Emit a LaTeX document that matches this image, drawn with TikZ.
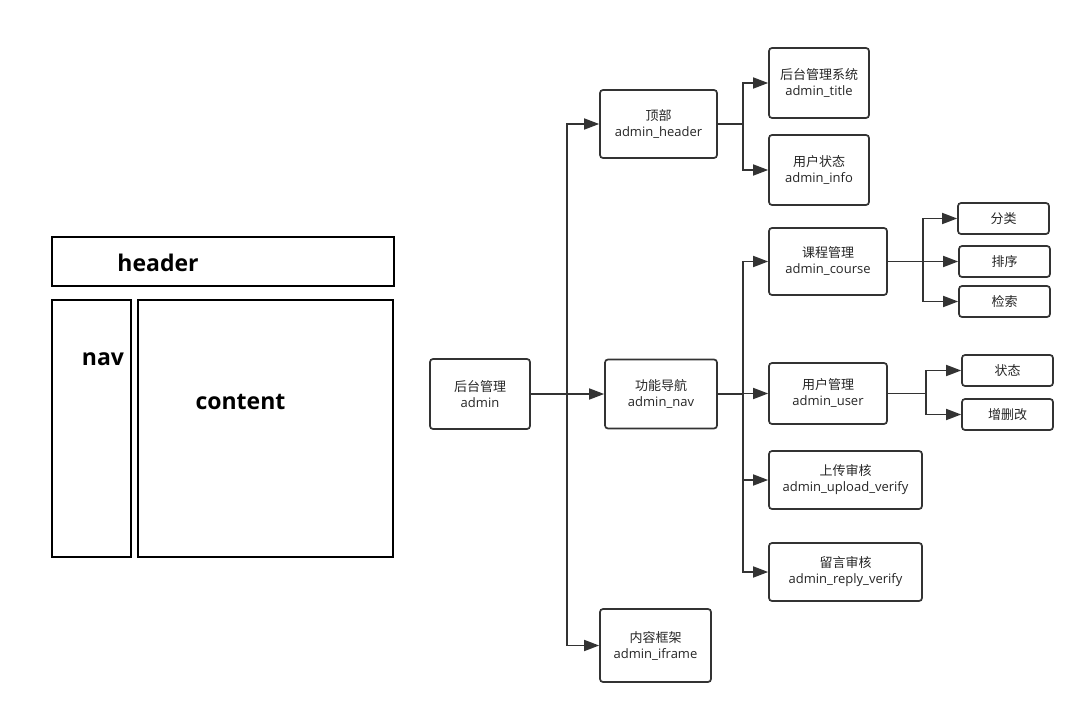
\documentclass[tikz,border=0pt]{standalone}
\usepackage{fontspec}
\setmainfont{Open Sans}
\newfontfamily\cjk{Noto Sans CJK SC}
\newfontfamily\boldlab{Open Sans}[UprightFont=* Bold]
\usetikzlibrary{arrows.meta}
\definecolor{ln}{HTML}{333333}
\begin{document}
\begin{tikzpicture}[x=1pt,y=-1pt,
  box/.style={draw=ln,line width=1.7pt,rounded corners=3pt,fill=white,align=center,
    inner sep=0pt,font=\fontsize{13}{16}\selectfont,text=black!85},
  lay/.style={draw=black,line width=2.6pt,inner sep=0pt},
  big/.style={font=\boldlab\fontsize{23}{26}\selectfont,inner sep=0pt,text=black},
  arr/.style={draw=ln,line width=1.7pt,-{Triangle[length=15pt,width=11pt]}},
  ln/.style={draw=ln,line width=1.7pt}]
\useasboundingbox (0,0) rectangle (1086,714);
% layout sketch
\node[lay,minimum width=342pt,minimum height=49pt] (hdrbox) at (223,261.5) {};
\node[lay,minimum width=79pt,minimum height=257pt] (navbox) at (91.5,428.5) {};
\node[lay,minimum width=255pt,minimum height=257pt] (conbox) at (265.5,428.5) {};
\node[big] (hdrtxt) at (158,263) {header};
\node[big] (navtxt) at (103,359) {nav};
\node[big] (contxt) at (240.5,402) {content};
% tree
\node[box,minimum width=100pt,minimum height=70pt] (admin) at (480,394) {{\cjk 后台管理}\\admin};
\node[box,minimum width=112pt,minimum height=69pt] (nav) at (661,394) {{\cjk 功能导航}\\admin\_nav};
\node[box,minimum width=117pt,minimum height=68pt] (hdr) at (658.5,124) {{\cjk 顶部}\\admin\_header};
\node[box,minimum width=111pt,minimum height=73pt] (ifr) at (655.5,645.5) {{\cjk 内容框架}\\admin\_iframe};
\node[box,minimum width=100pt,minimum height=70pt] (title) at (819,83) {{\cjk 后台管理系统}\\admin\_title};
\node[box,minimum width=100pt,minimum height=70pt] (info) at (819,170) {{\cjk 用户状态}\\admin\_info};
\node[box,minimum width=118pt,minimum height=67pt] (course) at (828,261.5) {{\cjk 课程管理}\\admin\_course};
\node[box,minimum width=118pt,minimum height=61pt] (user) at (828,393.5) {{\cjk 用户管理}\\admin\_user};
\node[box,minimum width=153pt,minimum height=58pt] (upload) at (845.5,480) {{\cjk 上传审核}\\admin\_upload\_verify};
\node[box,minimum width=153pt,minimum height=58pt] (reply) at (845.5,572) {{\cjk 留言审核}\\admin\_reply\_verify};
\node[box,minimum width=91pt,minimum height=31pt] (fenlei) at (1003.5,218.5) {\cjk 分类};
\node[box,minimum width=91pt,minimum height=31pt] (paixu) at (1004.5,261.5) {\cjk 排序};
\node[box,minimum width=91pt,minimum height=31pt] (jiansuo) at (1004.5,301.5) {\cjk 检索};
\node[box,minimum width=91pt,minimum height=31pt] (zhuangtai) at (1007.5,370.5) {\cjk 状态};
\node[box,minimum width=91pt,minimum height=31pt] (zsg) at (1007.5,414.5) {\cjk 增删改};
% connectors
\draw[arr] (admin.east) -- (nav.west);
\draw[arr] (admin.east) -- ++(36,0) |- (hdr.west);
\draw[arr] (admin.east) -- ++(36,0) |- (ifr.west);
\draw[arr] (hdr.east) -- ++(25,0) |- (title.west);
\draw[arr] (hdr.east) -- ++(25,0) |- (info.west);
\draw[arr] (nav.east) -- ++(25,0) |- (course.west);
\draw[arr] (nav.east) -- ++(25,0) |- (user.west);
\draw[arr] (nav.east) -- ++(25,0) |- (upload.west);
\draw[arr] (nav.east) -- ++(25,0) |- (reply.west);
\draw[arr] (course.east) -- ++(35,0) |- (fenlei.west);
\draw[arr] (course.east) -- (paixu.west);
\draw[arr] (course.east) -- ++(35,0) |- (jiansuo.west);
\draw[arr] (user.east) -- ++(38,0) |- (zhuangtai.west);
\draw[arr] (user.east) -- ++(38,0) |- (zsg.west);
\end{tikzpicture}
\end{document}
